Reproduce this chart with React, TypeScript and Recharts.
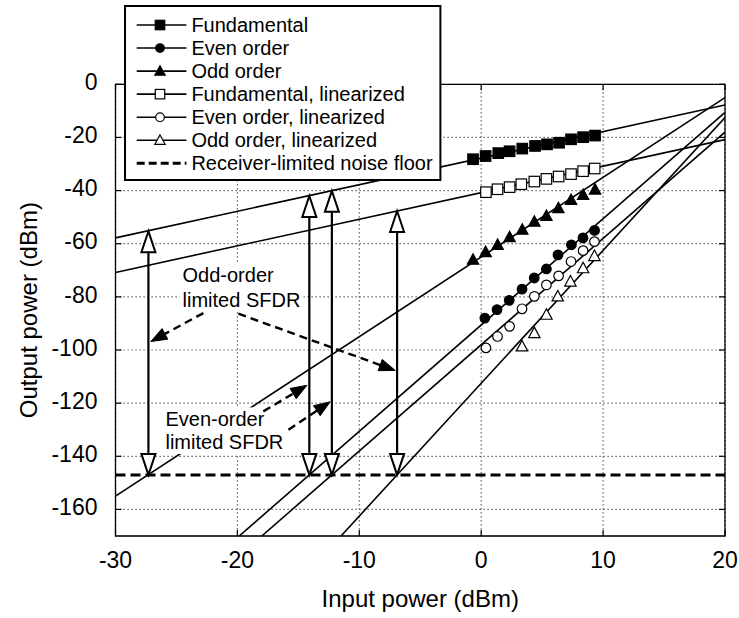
import React from 'react';
import {
  ComposedChart,
  Line,
  Scatter,
  XAxis,
  YAxis,
  CartesianGrid,
  ReferenceLine,
  ReferenceArea,
  ReferenceDot,
  Legend,
} from 'recharts';

const FONT = '"Liberation Sans", Arial, Helvetica, sans-serif';
const CHART_W = 739;
const CHART_H = 618;
const PLOT_LEFT = 115.5;
const PLOT_RIGHT = 725;
const PLOT_TOP = 84.3;
const PLOT_BOTTOM = 536;
const X_AXIS_H = 60;
const TICK_FS = 23;
const TITLE_FS = 24;

// ---- axes ----
const xTicks = [-30, -20, -10, 0, 10, 20];
const yTicks = [0, -20, -40, -60, -80, -100, -120, -140, -160];

// ---- measured points ----
const fundX = [-0.67, 0.36, 1.4, 2.33, 3.37, 4.42, 5.4, 6.39, 7.37, 8.36, 9.34];
const fundY = [-28.2, -27.0, -25.9, -25.2, -24.2, -23.2, -22.6, -22.0, -20.7, -19.9, -19.3];
const evenX = [0.3, 1.3, 2.3, 3.35, 4.35, 5.35, 6.3, 7.4, 8.35, 9.3];
const evenY = [-88.0, -84.8, -81.3, -77.1, -72.9, -69.5, -64.2, -60.4, -57.8, -55.0];
const oddX = [-0.67, 0.36, 1.35, 2.33, 3.37, 4.36, 5.35, 6.33, 7.37, 8.36, 9.34];
const oddY = [-66.0, -63.1, -60.4, -57.5, -54.7, -51.7, -49.5, -46.6, -43.5, -41.6, -39.6];
const fundLinX = [0.39, 1.34, 2.33, 3.29, 4.36, 5.35, 6.35, 7.37, 8.36, 9.31];
const fundLinY = [-40.6, -39.5, -38.7, -37.6, -36.6, -35.6, -34.7, -33.8, -32.7, -31.7];
const evenLinX = [0.39, 1.34, 2.33, 3.35, 4.36, 5.35, 6.35, 7.37, 8.36, 9.29];
const evenLinY = [-99.2, -94.9, -91.1, -84.5, -79.8, -75.5, -72.1, -66.7, -62.6, -59.2];
const oddLinX = [3.35, 4.36, 5.35, 6.28, 7.32, 8.36, 9.29];
const oddLinY = [-98.6, -93.6, -86.7, -79.8, -74.2, -69.2, -64.6];

// ---- fitted lines (end points) ----
const fundFitX = [-30, 20];
const fundFitY = [-57.8, -7.8];
const fundLinFitX = [-30, 20];
const fundLinFitY = [-70.8, -20.8];
const oddFitX = [-30, 20];
const oddFitY = [-155, -5];
const evenFitX = [-19.85, 20];
const evenFitY = [-170, -10.6];
const evenLinFitX = [-18, 20];
const evenLinFitY = [-170, -18];
const oddLinFitX = [-11.5, 20];
const oddLinFitY = [-170, -12.5];

const noiseFloor = -147;

// ---- SFDR arrows ----
const sfdrX = [-27.3, -14.1, -12.25, -6.9];
const sfdrTop = [-55.3, -42.0, -40.1, -47.7];

// ---- dashed pointers ----
const ptrFromX = [-22.79, -19.92, -17.87, -15.81];
const ptrFromY = [-86.1, -86.35, -123.1, -130.0];
const ptrToX = [-27.1, -7.05, -14.3, -12.39];
const ptrToY = [-96.8, -107.7, -113.3, -119.5];

// ---- annotation text ----
const noteText = ['Odd-order', 'limited SFDR', 'Even-order', 'limited SFDR'];
const noteX = [-24.5, -24.5, -25.9, -25.9];
const noteY = [-71.7, -81.1, -126.1, -134.6];

// ---- legend ----
const legendNames = [
  'Fundamental',
  'Even order',
  'Odd order',
  'Fundamental, linearized',
  'Even order, linearized',
  'Odd order, linearized',
  'Receiver-limited noise floor',
];
const legendKinds = [
  'squareFilled',
  'circleFilled',
  'triangleFilled',
  'squareOpen',
  'circleOpen',
  'triangleOpen',
  'dashed',
];

const zip = (xs: number[], ys: number[]) => xs.map((x, i) => ({ x, y: ys[i] }));

// approximate Arial advance widths (per 1000 em) for background boxes
const CW: Record<string, number> = {
  O: 778, d: 556, '-': 333, o: 556, r: 333, e: 556, l: 222, i: 222, m: 833, t: 278,
  ' ': 278, S: 667, F: 611, D: 722, R: 722, E: 667, v: 500,
};
const textWidth = (s: string, size: number) =>
  (s.split('').reduce((a, c) => a + (CW[c] ?? 556), 0) / 1000) * size;

function Marker({ kind, cx, cy, scale = 1 }: { kind: string; cx: number; cy: number; scale?: number }) {
  const filled = kind.endsWith('Filled');
  const fill = filled ? '#000' : '#fff';
  const common = { fill, stroke: '#000', strokeWidth: 1.2 };
  if (kind.startsWith('square')) {
    const s = 10.5 * scale;
    return <rect x={cx - s / 2} y={cy - s / 2} width={s} height={s} {...common} />;
  }
  if (kind.startsWith('circle')) {
    return <circle cx={cx} cy={cy} r={4.8 * scale} {...common} />;
  }
  const h = 5.4 * scale;
  return (
    <polygon
      points={`${cx},${cy - h - 0.5} ${cx - h - 0.3},${cy + h - 0.8} ${cx + h + 0.3},${cy + h - 0.8}`}
      {...common}
    />
  );
}

const shapeOf = (kind: string) => (p: any) => <Marker kind={kind} cx={p.cx} cy={p.cy} />;

function DoubleArrow(props: any) {
  const { x1, y1, y2 } = props;
  const yb = Math.max(y1, y2);
  const yt = Math.min(y1, y2);
  const L = 21;
  const Wd = 7;
  return (
    <g>
      <line x1={x1} x2={x1} y1={yb - L} y2={yt + L} stroke="#000" strokeWidth={2.2} />
      <polygon
        points={`${x1},${yb} ${x1 - Wd},${yb - L} ${x1 + Wd},${yb - L}`}
        fill="#fff"
        stroke="#000"
        strokeWidth={2}
      />
      <polygon
        points={`${x1},${yt} ${x1 - Wd},${yt + L} ${x1 + Wd},${yt + L}`}
        fill="#fff"
        stroke="#000"
        strokeWidth={2}
      />
    </g>
  );
}

function Pointer(props: any) {
  const { x1, y1, x2, y2 } = props;
  const dx = x2 - x1;
  const dy = y2 - y1;
  const len = Math.sqrt(dx * dx + dy * dy);
  const ux = dx / len;
  const uy = dy / len;
  const L = 16;
  const Wd = 6;
  const bx = x2 - ux * L;
  const by = y2 - uy * L;
  return (
    <g>
      <line x1={x1} y1={y1} x2={bx} y2={by} stroke="#000" strokeWidth={2.4} strokeDasharray="8 5" />
      <polygon
        points={`${x2},${y2} ${bx - uy * Wd},${by + ux * Wd} ${bx + uy * Wd},${by - ux * Wd}`}
        fill="#000"
        stroke="#000"
        strokeWidth={1}
      />
    </g>
  );
}

const noteShape = (text: string) => (p: any) => {
  const w = textWidth(text, 20);
  return (
    <g>
      <rect x={p.cx - 3} y={p.cy - 12} width={w + 6} height={24} fill="#fff" />
      <text x={p.cx} y={p.cy} dy="0.35em" fontSize={20} fill="#000" style={{ fontFamily: FONT }}>
        {text}
      </text>
    </g>
  );
};

const XTick = (p: any) => (
  <g>
    <line x1={p.x} x2={p.x} y1={PLOT_BOTTOM} y2={PLOT_BOTTOM - 6} stroke="#000" strokeWidth={1.2} />
    <line x1={p.x} x2={p.x} y1={PLOT_TOP} y2={PLOT_TOP + 6} stroke="#000" strokeWidth={1.2} />
    <text x={p.x} y={560} dy="0.35em" textAnchor="middle" fontSize={TICK_FS} fill="#000" style={{ fontFamily: FONT }}>
      {p.payload.value}
    </text>
  </g>
);

const YTick = (p: any) => (
  <g>
    <line x1={PLOT_LEFT} x2={PLOT_LEFT + 6} y1={p.y} y2={p.y} stroke="#000" strokeWidth={1.2} />
    <line x1={PLOT_RIGHT} x2={PLOT_RIGHT - 6} y1={p.y} y2={p.y} stroke="#000" strokeWidth={1.2} />
    <text x={97.5} y={p.y} dy="0.25em" textAnchor="end" fontSize={TICK_FS} fill="#000" style={{ fontFamily: FONT }}>
      {p.payload.value}
    </text>
  </g>
);

const XTitle = () => (
  <text x={(PLOT_LEFT + PLOT_RIGHT) / 2} y={599} dy="0.35em" textAnchor="middle" fontSize={TITLE_FS} fill="#000" style={{ fontFamily: FONT }}>
    Input power (dBm)
  </text>
);

const YTitle = () => (
  <text
    x={29}
    y={(PLOT_TOP + PLOT_BOTTOM) / 2}
    dy="0.35em"
    textAnchor="middle"
    fontSize={TITLE_FS}
    fill="#000"
    transform={`rotate(-90 29 ${(PLOT_TOP + PLOT_BOTTOM) / 2})`}
    style={{ fontFamily: FONT }}
  >
    Output power (dBm)
  </text>
);

const LEG_W = 317.4;
const LEG_H = 176;
const LegendBox = () => (
  <svg width={LEG_W} height={LEG_H} style={{ display: 'block', fontFamily: FONT }}>
    <rect x={1} y={1} width={LEG_W - 2} height={LEG_H - 2} fill="#fff" stroke="#000" strokeWidth={2} />
    {legendNames.map((name, i) => {
      const y = 20 + i * 23.05;
      const kind = legendKinds[i];
      return (
        <g key={name}>
          {kind === 'dashed' ? (
            <line x1={12.7} x2={62.4} y1={y} y2={y} stroke="#000" strokeWidth={3} strokeDasharray="8 4" />
          ) : (
            <>
              <line x1={12.7} x2={62.4} y1={y} y2={y} stroke="#000" strokeWidth={1.6} />
              <Marker kind={kind} cx={36} cy={y} scale={0.9} />
            </>
          )}
          <text x={67.4} y={y} dy="0.35em" fontSize={20} fill="#000">
            {name}
          </text>
        </g>
      );
    })}
  </svg>
);

const fitLines = [
  zip(fundFitX, fundFitY),
  zip(fundLinFitX, fundLinFitY),
  zip(oddFitX, oddFitY),
  zip(evenFitX, evenFitY),
  zip(evenLinFitX, evenLinFitY),
  zip(oddLinFitX, oddLinFitY),
];

const pointSeries = [
  { name: 'Fundamental', kind: 'squareFilled', data: zip(fundX, fundY) },
  { name: 'Even order', kind: 'circleFilled', data: zip(evenX, evenY) },
  { name: 'Odd order', kind: 'triangleFilled', data: zip(oddX, oddY) },
  { name: 'Fundamental, linearized', kind: 'squareOpen', data: zip(fundLinX, fundLinY) },
  { name: 'Even order, linearized', kind: 'circleOpen', data: zip(evenLinX, evenLinY) },
  { name: 'Odd order, linearized', kind: 'triangleOpen', data: zip(oddLinX, oddLinY) },
];

export default function App() {
  return (
    <div style={{ position: 'absolute', left: 0, top: 0, width: CHART_W, height: CHART_H, background: '#fff' }}>
      <ComposedChart
        width={CHART_W}
        height={CHART_H}
        margin={{
          top: PLOT_TOP,
          right: CHART_W - PLOT_RIGHT,
          bottom: CHART_H - PLOT_BOTTOM - X_AXIS_H,
          left: 0,
        }}
        style={{ fontFamily: FONT }}
      >
        <CartesianGrid stroke="#444" strokeDasharray="1.2 2.8" strokeWidth={1.2} />
        <XAxis
          type="number"
          dataKey="x"
          domain={[-30, 20]}
          ticks={xTicks}
          interval={0}
          allowDataOverflow
          axisLine={false}
          tickLine={false}
          tick={XTick}
          height={X_AXIS_H}
          label={{ value: 'Input power (dBm)', content: XTitle }}
        />
        <YAxis
          type="number"
          dataKey="y"
          domain={[-170, 0]}
          ticks={yTicks}
          interval={0}
          allowDataOverflow
          axisLine={false}
          tickLine={false}
          tick={YTick}
          width={PLOT_LEFT}
          label={{ value: 'Output power (dBm)', content: YTitle }}
        />
        <ReferenceArea x1={-30} x2={20} y1={-170} y2={0} fill="none" fillOpacity={0} stroke="#000" strokeWidth={1.3} />
        {fitLines.map((d, i) => (
          <Line
            key={`fit${i}`}
            data={d}
            dataKey="y"
            stroke="#000"
            strokeWidth={1.6}
            dot={false}
            activeDot={false}
            legendType="none"
            isAnimationActive={false}
          />
        ))}
        <ReferenceLine y={noiseFloor} stroke="#000" strokeWidth={3} strokeDasharray="10 5" />
        {pointSeries.map((s) => (
          <Scatter
            key={s.name}
            name={s.name}
            data={s.data}
            shape={shapeOf(s.kind)}
            isAnimationActive={false}
          />
        ))}
        {sfdrX.map((x, i) => (
          <ReferenceLine
            key={`sfdr${i}`}
            segment={[{ x, y: noiseFloor }, { x, y: sfdrTop[i] }]}
            shape={DoubleArrow}
            zIndex={700}
          />
        ))}
        {noteText.map((t, i) => (
          <ReferenceDot key={`note${i}`} x={noteX[i]} y={noteY[i]} r={1} shape={noteShape(t)} zIndex={750} />
        ))}
        {ptrFromX.map((x, i) => (
          <ReferenceLine
            key={`ptr${i}`}
            segment={[{ x, y: ptrFromY[i] }, { x: ptrToX[i], y: ptrToY[i] }]}
            shape={Pointer}
            zIndex={800}
          />
        ))}
        <Legend
          layout="vertical"
          align="center"
          verticalAlign="middle"
          content={LegendBox}
          wrapperStyle={{ position: 'absolute', left: 124.3, top: 5, width: LEG_W, height: LEG_H }}
        />
      </ComposedChart>
    </div>
  );
}
